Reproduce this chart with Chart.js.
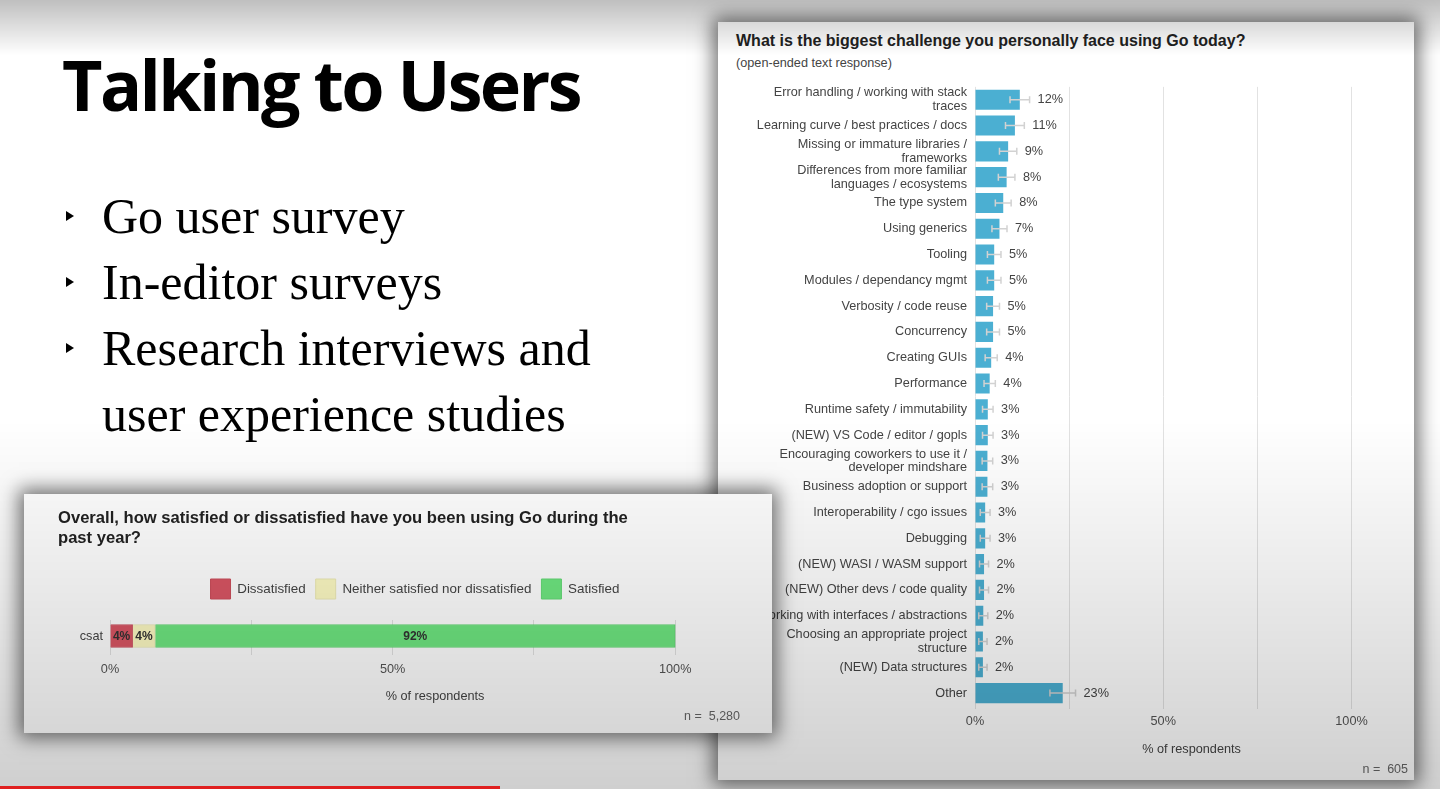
<!DOCTYPE html>
<html>
<head>
<meta charset="utf-8">
<script src="https://cdn.jsdelivr.net/npm/chart.js@4.4.1/dist/chart.umd.min.js"></script>
<style>
  body { margin: 0; width: 1440px; height: 789px; overflow: hidden; background: #fff; position: relative; font-family: "Liberation Sans", Arial, sans-serif; }
  .abs { position: absolute; }
  #slideTitle { left: 62px; top: 44px; font: 700 70px/80px "Open Sans", sans-serif; letter-spacing: -2.65px; color: #000; white-space: nowrap; }
  .bullet { left: 102px; font: 50px/60px "Liberation Serif", serif; color: #000; white-space: nowrap; }
  .tri { position: absolute; left: 66px; width: 0; height: 0; border-left: 8px solid #000; border-top: 5px solid transparent; border-bottom: 5px solid transparent; }
  #rightPanel { left: 718px; top: 22px; width: 696px; height: 758px; background: #fff; box-shadow: 0 0 18px 5px rgba(0,0,0,.55); z-index: 1; }
  #leftPanel { left: 24px; top: 494px; width: 748px; height: 239px; background: #fff; box-shadow: 0 0 18px 5px rgba(0,0,0,.55); z-index: 2; }
  .ctitle { font-weight: 700; color: #222; white-space: nowrap; }
  .note { color: #666; font-size: 12.5px; }
  #shade { left: 0; top: 0; width: 1440px; height: 789px; z-index: 5; pointer-events: none;
    background: linear-gradient(to bottom, rgba(0,0,0,.25) 0px, rgba(0,0,0,0) 55px, rgba(0,0,0,0) 420px, rgba(0,0,0,.19) 789px); }
  #progress { left: 0; top: 786px; width: 500px; height: 3px; background: #e02020; z-index: 6; }
</style>
</head>
<body>
<div id="slideTitle" class="abs">Talking to Users</div>
<div class="tri" style="top:211px"></div><div class="abs bullet" style="top:186px">Go user survey</div>
<div class="tri" style="top:277px"></div><div class="abs bullet" style="top:252px">In-editor surveys</div>
<div class="tri" style="top:343px"></div><div class="abs bullet" style="top:318px">Research interviews and</div>
<div class="abs bullet" style="top:384px">user experience studies</div>

<div id="rightPanel" class="abs">
  <div class="abs ctitle" style="left:18px; top:10px; font-size:16px; line-height:18px;">What is the biggest challenge you personally face using Go today?</div>
  <div class="abs" style="left:18px; top:34px; font-size:12.7px; line-height:15px; color:#444;">(open-ended text response)</div>
  <canvas id="challenge" width="696" height="708" class="abs" style="left:0; top:50px;"></canvas>
  <div class="abs note" style="right:6px; top:740px;">n =&nbsp; 605</div>
</div>

<div id="leftPanel" class="abs">
  <div class="abs ctitle" style="left:34px; top:14px; font-size:16.6px; line-height:20px;">Overall, how satisfied or dissatisfied have you been using Go during the<br>past year?</div>
  <canvas id="csat" width="690" height="141" class="abs" style="left:46px; top:75px;"></canvas>
  <div class="abs note" style="right:32px; top:215px;">n =&nbsp; 5,280</div>
</div>

<div id="shade" class="abs"></div>
<div id="progress" class="abs"></div>

<script>
// biggest challenge (open-ended), share of respondents
const challengeLabels = [
  ['Error handling / working with stack', 'traces'],
  'Learning curve / best practices / docs',
  ['Missing or immature libraries /', 'frameworks'],
  ['Differences from more familiar', 'languages / ecosystems'],
  'The type system',
  'Using generics',
  'Tooling',
  'Modules / dependancy mgmt',
  'Verbosity / code reuse',
  'Concurrency',
  'Creating GUIs',
  'Performance',
  'Runtime safety / immutability',
  '(NEW) VS Code / editor / gopls',
  ['Encouraging coworkers to use it /', 'developer mindshare'],
  'Business adoption or support',
  'Interoperability / cgo issues',
  'Debugging',
  '(NEW) WASI / WASM support',
  '(NEW) Other devs / code quality',
  'Working with interfaces / abstractions',
  ['Choosing an appropriate project', 'structure'],
  '(NEW) Data structures',
  'Other'
];
const challengeValues = [11.9, 10.6, 8.8, 8.4, 7.5, 6.5, 5.1, 5.1, 4.8, 4.8, 4.3, 3.9, 3.4, 3.4, 3.3, 3.3, 2.7, 2.7, 2.4, 2.4, 2.2, 2.1, 2.1, 23.3];
const challengeErrors = [2.6, 2.5, 2.3, 2.2, 2.1, 2.0, 1.8, 1.8, 1.7, 1.7, 1.6, 1.5, 1.4, 1.4, 1.4, 1.4, 1.3, 1.3, 1.2, 1.2, 1.2, 1.1, 1.1, 3.4];

// satisfaction
const csatCategories = ['csat'];
const csatSeries = ['Dissatisfied', 'Neither satisfied nor dissatisfied', 'Satisfied'];
const csatValues = [4, 4, 92];

const xTicks = [0, 25, 50, 75, 100];
const xTickLabels = ['0%', '', '50%', '', '100%'];

const FONT = '"Liberation Sans", Arial, sans-serif';

const errorBars = {
  id: 'errorBars',
  afterDatasetsDraw(chart) {
    const { ctx, scales: { x, y } } = chart;
    ctx.save();
    challengeValues.forEach((v, i) => {
      const cy = y.getPixelForValue(i);
      const lo = x.getPixelForValue(v - challengeErrors[i]);
      const hi = x.getPixelForValue(v + challengeErrors[i]);
      ctx.strokeStyle = '#d2d2d2';
      ctx.lineWidth = 1.5;
      ctx.beginPath();
      ctx.moveTo(lo, cy); ctx.lineTo(hi, cy);
      ctx.moveTo(lo, cy - 3.5); ctx.lineTo(lo, cy + 3.5);
      ctx.moveTo(hi, cy - 3.5); ctx.lineTo(hi, cy + 3.5);
      ctx.stroke();
      ctx.fillStyle = '#444';
      ctx.font = '12.7px ' + FONT;
      ctx.textBaseline = 'middle';
      ctx.fillText(Math.round(v) + '%', hi + 8, cy);
    });
    ctx.restore();
  }
};

const xPercentAxis = (height, tickPad, titlePad) => ({
  min: 0,
  max: 115,
  afterBuildTicks: s => { s.ticks = xTicks.map(v => ({ value: v })); },
  afterFit: s => { s.height = height; },
  border: { display: false },
  grid: { color: '#e2e2e2', drawTicks: true, tickLength: 3 },
  ticks: { padding: tickPad, color: '#555', font: { family: FONT, size: 12.7 }, callback: v => xTickLabels[xTicks.indexOf(v)] },
  title: { display: true, text: '% of respondents', color: '#444', font: { family: FONT, size: 12.7 }, padding: { top: 0, bottom: titlePad } }
});

new Chart(document.getElementById('challenge'), {
  type: 'bar',
  data: {
    labels: challengeLabels,
    datasets: [{ data: challengeValues, backgroundColor: '#4bafd2', barPercentage: 0.78, categoryPercentage: 1 }]
  },
  options: {
    indexAxis: 'y',
    responsive: false,
    animation: false,
    layout: { padding: { top: 0, right: 6, bottom: 0, left: 0 } },
    plugins: { legend: { display: false }, tooltip: { enabled: false } },
    scales: {
      x: xPercentAxis(74, 5, 23),
      y: {
        afterFit: s => { s.width = 257; },
        grid: { display: false, drawTicks: false },
        border: { display: false },
        ticks: { padding: 8, color: '#444', autoSkip: false, font: { family: FONT, size: 12.7, lineHeight: 1.08 } }
      }
    }
  },
  plugins: [errorBars]
});

const legendGap = {
  id: 'legendGap',
  beforeInit(chart) {
    const fit = chart.legend.fit;
    chart.legend.fit = function () { fit.call(this); this.height += 11; };
  }
};

const segmentLabels = {
  id: 'segmentLabels',
  afterDatasetsDraw(chart) {
    const { ctx } = chart;
    ctx.save();
    ctx.fillStyle = '#333';
    ctx.font = 'bold 12px ' + FONT;
    ctx.textAlign = 'center';
    ctx.textBaseline = 'middle';
    chart.data.datasets.forEach((ds, i) => {
      chart.getDatasetMeta(i).data.forEach((bar, j) => {
        ctx.fillText(ds.data[j] + '%', (bar.x + bar.base) / 2, bar.y + 1);
      });
    });
    ctx.restore();
  }
};

// a bit brighter than seen, the page shade darkens them
const csatFill = ['#d95664', '#fdfac3', '#6fe781'];
const csatEdge = ['#cc4f5c', '#eeebb6', '#64da76'];

new Chart(document.getElementById('csat'), {
  type: 'bar',
  data: {
    labels: csatCategories,
    datasets: csatSeries.map((name, i) => ({
      label: name,
      data: [csatValues[i]],
      backgroundColor: csatFill[i],
      borderColor: csatEdge[i],
      borderWidth: 1,
      barThickness: 23
    }))
  },
  options: {
    indexAxis: 'y',
    responsive: false,
    animation: false,
    layout: { padding: 0 },
    plugins: {
      legend: { labels: { boxWidth: 20, boxHeight: 20, padding: 10, color: '#444', font: { family: FONT, size: 13.4 } } },
      tooltip: { enabled: false }
    },
    scales: {
      x: Object.assign(xPercentAxis(58, 7, 6), { stacked: true }),
      y: {
        stacked: true,
        afterFit: s => { s.width = 40; },
        grid: { display: false, drawTicks: false },
        border: { display: false },
        ticks: { padding: 7, color: '#444', font: { family: FONT, size: 12.7 } }
      }
    }
  },
  plugins: [legendGap, segmentLabels]
});
</script>
</body>
</html>
